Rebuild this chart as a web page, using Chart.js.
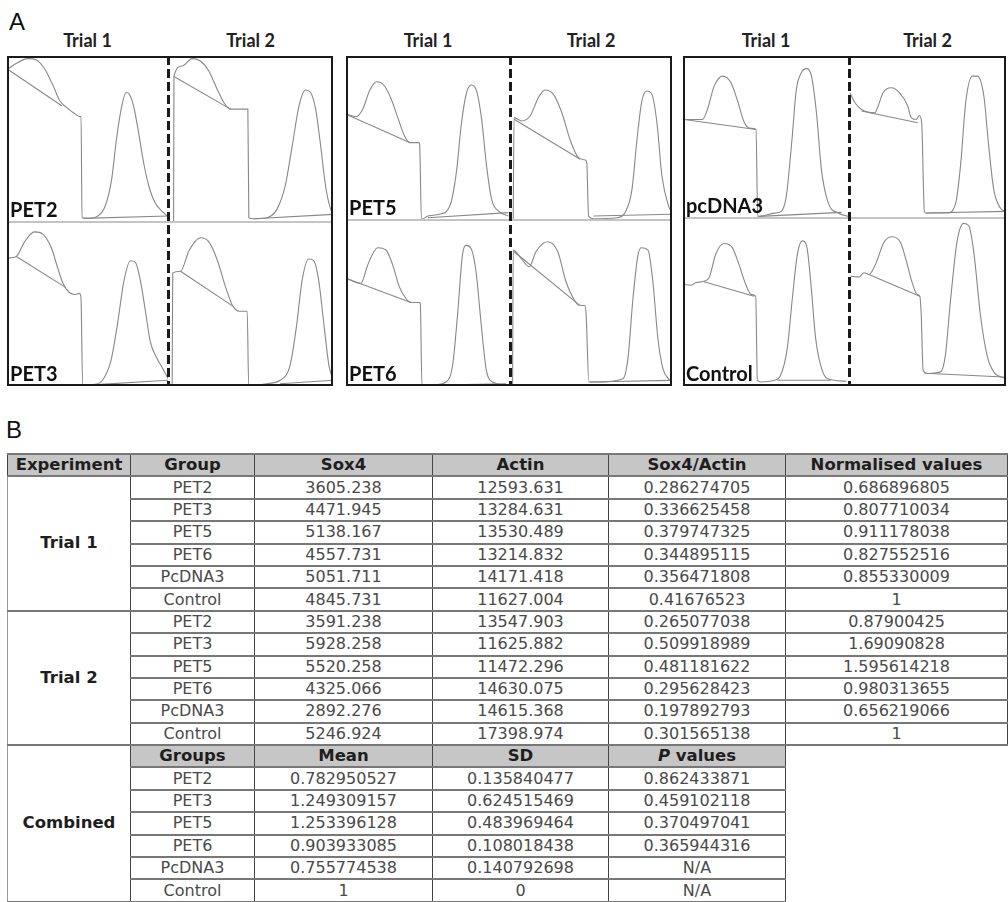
<!DOCTYPE html>
<html>
<head>
<meta charset="utf-8">
<script src="https://cdn.jsdelivr.net/npm/chart.js@4"></script>
<style>
  body { margin: 0; width: 1008px; height: 902px; background: #fff; position: relative; overflow: hidden; font-family: "Liberation Sans", Arial, sans-serif; }
  .panelLetter { position: absolute; font-size: 24px; color: #111; line-height: 1; }
  .box { position: absolute; }
  .box canvas { position: absolute; }
  .frame { position: absolute; left: 0; top: 0; right: 0; bottom: 0; border: 2px solid #1a1a1a; pointer-events: none; }
  .mid { position: absolute; left: 0; right: 0; height: 2px; background: #c4c4c4; }
  .dash { position: absolute; top: 0; bottom: 0; width: 3px;
          background: repeating-linear-gradient(to bottom, #1a1a1a 0 9px, transparent 9px 13px); }
  .title { position: absolute; font-family: Lato, "Open Sans", sans-serif; font-weight: bold; font-size: 18px; color: #222; text-align: center; width: 120px; line-height: 1; }
  .lbl { position: absolute; font-family: Lato, "Open Sans", sans-serif; font-weight: bold; font-size: 20px; color: #111; line-height: 1; }
  table { position: absolute; left: 7px; top: 453px; border-collapse: collapse; table-layout: fixed; font-family: "DejaVu Sans", Verdana, sans-serif; }
  td { height: 20.4px; padding: 0; text-align: center; font-size: 16px; color: #4a4a4a; border-left: 1px solid #444; border-right: 1px solid #444; border-top: 2px solid #777; border-bottom: 2px solid #777; line-height: 1; white-space: nowrap; }
  td.hd { background: #c6c6c6; color: #1e1e1e; font-weight: bold; font-size: 16.5px; }
  td.exp { color: #1e1e1e; font-weight: bold; font-size: 16.5px; border-left: 1px solid #999; }
</style>
</head>
<body>
<div class="panelLetter" style="left:9px;top:10px;">A</div>
<div class="panelLetter" style="left:6px;top:418px;">B</div>
<div id="panelA"></div>
<table id="tbl"></table>

<script>
// ---- panel A: densitometry traces (x: 0-100 across lane, y: 0-100 up the lane) ----
const pet2Trial1 = [[0.4,92],[4.8,95],[13,98.4],[18.3,97.6],[23.5,92],[28.7,82],[32.8,73],[37,69],[41,66],[45.3,63.5],[46,63.5],[46.6,2.6],[49.5,2.2],[55.7,3.2],[61,9.6],[65,25.7],[68,50],[71.3,70],[74,78],[76,77],[78.6,70],[81.7,54],[84.8,36],[88,22],[92,11.6],[97.3,5.6],[100,3.2]];
const pet2Trial1Base = [[0.4,92],[34,70],null,[47.4,2.2],[100,3.6]];
const pet2Trial2 = [[3.4,0],[3.6,87.6],[8.5,94],[14.6,98.4],[19.6,97],[24.7,91],[29.8,80],[33.8,72],[37.9,68],[48,68],[48.4,68],[49,2.6],[52,2],[60,2.6],[66,7.6],[71,21.7],[75.3,46],[79.4,70],[83.4,79.5],[86.4,78],[89.5,68],[92.5,46],[95.5,21.7],[98.6,7.6],[100,5.6]];
const pet2Trial2Base = [[3.6,87.6],[37.9,68],null,[52,2],[100,4.6]];

const pet3Trial1 = [[0.6,78],[5.8,79],[11,88],[17,94],[22.2,92.6],[27.4,84.6],[31.5,72],[34.6,63],[38.7,57],[42,55.8],[44.9,56.5],[45.9,54.8],[47,0.4],[53,0.8],[59.3,3.5],[64.4,14.8],[68.5,37],[72.6,64],[76.7,76.4],[79.8,75.4],[82.9,64],[86,45.6],[89,27],[93.2,16.8],[97.3,9.6],[100,4.5]];
const pet3Trial1Base = [[5.8,79],[36.6,60],null,[47.7,0.4],[100,3.5]];
const pet3Trial2 = [[2.5,0],[2.9,69],[7.6,70],[12.7,82.5],[19.8,90.4],[24.9,87.7],[30,76.4],[35,60],[39.3,48.7],[43.4,45.6],[47.4,45.6],[48,45.6],[48.9,0.4],[59.7,1.4],[67.9,3.5],[74,12.7],[78,37.4],[81.2,64],[85.3,77.4],[88.3,76.4],[91.4,64],[94.5,37.4],[97.5,12.7],[100,3.5]];
const pet3Trial2Base = [[7.6,70],[39.3,48.7],null,[67.9,1.4],[100,3.5]];

const pet5Trial1 = [[0.4,64.4],[6.1,63],[10.2,67.5],[14.3,78.7],[18.8,84.3],[23.5,81.7],[27.6,73.6],[31.6,62.4],[35.7,51.2],[38.8,47.2],[44.5,47.2],[44.9,46],[46,0.4],[50,2.4],[57,3.5],[63.3,8.5],[67.3,29],[70.4,59],[73.5,77.6],[76.5,82.3],[79.6,78.7],[82.7,61.4],[85.7,33],[88.8,12.6],[92.9,5.5],[99,2.4]];
const pet5Trial1Base = [[0.4,64.4],[38.8,47.2],null,[50,1.4],[99,4.5]];
const pet5Trial2 = [[2,0],[2.5,62.4],[7.2,60.4],[12.4,63.4],[17.5,74.6],[21.6,79.3],[26.8,76.6],[32,65.4],[37,49.2],[42.3,38],[46.4,36.6],[47.4,35],[48.5,2.4],[51.5,0.8],[66,1.4],[71,4.5],[75.3,18.7],[78.4,49.2],[81.4,72.6],[84.5,78.7],[87.6,76.6],[90.7,59.3],[93.8,26.8],[97.9,8.5],[100,4.5]];
const pet5Trial2Base = [[2.5,61.4],[43.3,37],null,[51.5,2.4],[100,3.5]];

const pet6Trial1 = [[0.4,64.8],[9.1,61.8],[13.2,72.8],[19.3,83.3],[24.4,81.9],[28.5,72.8],[32.5,59.8],[36.6,52.7],[39.6,50.3],[44.7,50.3],[45.3,49.7],[46.3,0.4],[54.9,0.8],[61,2.4],[65,12.5],[68,42.7],[71,79],[73.2,84.7],[76.2,83],[79.3,68.8],[82.3,38.6],[85.4,10.5],[89.4,2.4],[95.5,0.8],[99.6,0.4]];
const pet6Trial1Base = [[0.4,64.8],[39.6,50.3],null,[46.7,0.4],[97.6,1.4]];
const pet6Trial2 = [[1.6,0],[2,81.9],[6.8,76.9],[11.9,71.8],[16,80.9],[23.3,86.9],[29.5,80.9],[34.6,62.8],[39.8,51.7],[42.9,48.7],[46.4,48.3],[47,42.7],[48.7,2.4],[53.2,2.4],[69.7,4.4],[72.8,16.5],[75.9,52.7],[79,78.9],[81,83.3],[85.2,81.9],[88.2,62.8],[91.3,28.6],[94.4,10.5],[98.6,3.4]];
const pet6Trial2Base = [[2,81.3],[42.9,48.7],null,[49.1,2.4],[98.6,3.4]];

const pcdnaTrial1 = [[0.6,60.8],[11.7,60.8],[14.7,67],[18.8,81.4],[23.8,87.6],[28.9,83.5],[32.9,72.2],[37,58.8],[41,55.3],[44,54.6],[45,1],[55.2,3],[59.2,4.1],[62.2,13.4],[65.3,44.3],[68.3,79.4],[71.3,89.7],[74.3,92.2],[77.4,87.6],[80.4,64.9],[83.4,29.9],[87.5,9.3],[93.5,3.1],[99.6,1]];
const pcdnaTrial1Base = [[0.6,60.8],[44,54.6],null,[46,1],[95.6,3.5]];
const pcdnaTrial2 = [[0.6,77.3],[3.8,71.1],[8,67],[16.4,64.9],[18.5,69],[21.7,77.3],[26.9,80.4],[32.2,77.3],[37.5,69],[39.6,61.9],[42.7,60.8],[44.8,63.3],[46.3,58.8],[48,4.1],[49,3.1],[62.7,3.1],[68,9.3],[71.2,34],[74.3,71.1],[78.5,87.6],[81.7,87.6],[85.9,75.3],[89,44.3],[92.2,17.5],[96.4,6.2],[99.6,4.1]];
const pcdnaTrial2Base = [[8,66],[43.8,58.8],null,[49,3.1],[99.6,4.1]];

const controlTrial1 = [[0.6,60.4],[4.6,60],[7.6,61.4],[12.7,62.4],[15.7,64.4],[19.7,78.4],[24.7,84.8],[29.7,82.4],[33.7,72.4],[37.8,60.4],[41.2,54.4],[43.8,53.4],[44.8,3.4],[46.8,2.4],[54.8,3.4],[58.8,6.4],[62.8,22.4],[65.9,52.4],[68.9,78.4],[71.9,86.4],[74.5,83.4],[76.9,62.4],[79.9,28.4],[82.9,12.4],[86.9,4.4],[98.6,2.8]];
const controlTrial1Base = [[12.7,62],[42.8,53.4],null,[56.8,3.4],[89,3.4]];
const controlTrial2 = [[1,65.4],[6.4,64.9],[9.5,67.4],[12.7,66.4],[16.9,72.4],[22.2,85.4],[27.5,88.8],[32.8,85.4],[37.1,72.4],[40.3,61.4],[43.4,54.4],[45.1,53.4],[46,42.4],[47.2,9.4],[49.8,7.4],[58.3,8.4],[61.4,18.4],[64.6,50.4],[68.9,86.4],[73.1,96.8],[76.3,95.4],[79.4,80.4],[83.7,42.4],[87.9,18.4],[92.2,8.4],[100,4.4]];
const controlTrial2Base = [[12.7,66.4],[45.1,53.4],null,[51.9,7.4],[98.5,5.4]];

const trialTitles = ['Trial 1', 'Trial 2'];

// ---- panel B: table values ----
const groups = ['PET2', 'PET3', 'PET5', 'PET6', 'PcDNA3', 'Control'];
const trial1Sox4 = ['3605.238', '4471.945', '5138.167', '4557.731', '5051.711', '4845.731'];
const trial1Actin = ['12593.631', '13284.631', '13530.489', '13214.832', '14171.418', '11627.004'];
const trial1Ratio = ['0.286274705', '0.336625458', '0.379747325', '0.344895115', '0.356471808', '0.41676523'];
const trial1Norm = ['0.686896805', '0.807710034', '0.911178038', '0.827552516', '0.855330009', '1'];
const trial2Sox4 = ['3591.238', '5928.258', '5520.258', '4325.066', '2892.276', '5246.924'];
const trial2Actin = ['13547.903', '11625.882', '11472.296', '14630.075', '14615.368', '17398.974'];
const trial2Ratio = ['0.265077038', '0.509918989', '0.481181622', '0.295628423', '0.197892793', '0.301565138'];
const trial2Norm = ['0.87900425', '1.69090828', '1.595614218', '0.980313655', '0.656219066', '1'];
const combinedMean = ['0.782950527', '1.249309157', '1.253396128', '0.903933085', '0.755774538', '1'];
const combinedSD = ['0.135840477', '0.624515469', '0.483969464', '0.108018438', '0.140792698', '0'];
const combinedP = ['0.862433871', '0.459102118', '0.370497041', '0.365944316', 'N/A', 'N/A'];

// layout of the three framed boxes
const boxes = [
  { left: 7, top: 56, w: 326, h: 330, split: 161, mid: 166, labels: ['PET2', 'PET3'],
    traces: [[pet2Trial1, pet2Trial1Base], [pet2Trial2, pet2Trial2Base], [pet3Trial1, pet3Trial1Base], [pet3Trial2, pet3Trial2Base]] },
  { left: 346, top: 56, w: 326, h: 330, split: 164, mid: 164, labels: ['PET5', 'PET6'],
    traces: [[pet5Trial1, pet5Trial1Base], [pet5Trial2, pet5Trial2Base], [pet6Trial1, pet6Trial1Base], [pet6Trial2, pet6Trial2Base]] },
  { left: 683, top: 56, w: 323, h: 330, split: 166, mid: 162, labels: ['pcDNA3', 'Control'],
    traces: [[pcdnaTrial1, pcdnaTrial1Base], [pcdnaTrial2, pcdnaTrial2Base], [controlTrial1, controlTrial1Base], [controlTrial2, controlTrial2Base]] }
];

function toPoints(arr) {
  return arr.map(function(p, i) {
    if (p === null) return { x: (arr[i - 1][0] + arr[i + 1][0]) / 2, y: null };
    return { x: p[0], y: p[1] };
  });
}

function drawTrace(canvas, curve, base) {
  new Chart(canvas, {
    type: 'line',
    data: {
      datasets: [{
        data: toPoints(curve),
        borderColor: '#888888',
        borderWidth: 1.1,
        pointRadius: 0,
        cubicInterpolationMode: 'monotone',
        clip: false
      }, {
        data: toPoints(base),
        borderColor: '#888888',
        borderWidth: 1.1,
        pointRadius: 0,
        tension: 0,
        spanGaps: false,
        clip: false
      }]
    },
    options: {
      responsive: false,
      animation: false,
      events: [],
      layout: { padding: 0 },
      plugins: { legend: { display: false }, tooltip: { enabled: false } },
      scales: {
        x: { type: 'linear', min: 0, max: 100, display: false },
        y: { type: 'linear', min: 0, max: 100, display: false }
      }
    }
  });
}

const panelA = document.getElementById('panelA');
boxes.forEach(function(b) {
  // trial titles
  [[0, b.split], [b.split, b.w]].forEach(function(r, i) {
    const t = document.createElement('div');
    t.className = 'title';
    t.textContent = trialTitles[i];
    t.style.left = (b.left + (r[0] + r[1]) / 2 - 60) + 'px';
    t.style.top = '31px';
    panelA.appendChild(t);
  });

  const box = document.createElement('div');
  box.className = 'box';
  box.style.left = b.left + 'px';
  box.style.top = b.top + 'px';
  box.style.width = b.w + 'px';
  box.style.height = b.h + 'px';
  panelA.appendChild(box);

  const cells = [
    [0, 0, b.split, b.mid], [b.split, 0, b.w - b.split, b.mid],
    [0, b.mid, b.split, b.h - b.mid], [b.split, b.mid, b.w - b.split, b.h - b.mid]
  ];
  cells.forEach(function(c, i) {
    const cv = document.createElement('canvas');
    cv.width = c[2];
    cv.height = c[3];
    cv.style.left = c[0] + 'px';
    cv.style.top = c[1] + 'px';
    box.appendChild(cv);
    drawTrace(cv, b.traces[i][0], b.traces[i][1]);
  });

  const mid = document.createElement('div');
  mid.className = 'mid';
  mid.style.top = (b.mid - 1) + 'px';
  box.appendChild(mid);

  const dash = document.createElement('div');
  dash.className = 'dash';
  dash.style.left = (b.split - 1) + 'px';
  box.appendChild(dash);

  const frame = document.createElement('div');
  frame.className = 'frame';
  box.appendChild(frame);

  b.labels.forEach(function(txt, i) {
    const l = document.createElement('div');
    l.className = 'lbl';
    l.textContent = txt;
    l.style.left = '3px';
    l.style.top = (i === 0 ? b.mid - 23 : b.h - 23) + 'px';
    box.appendChild(l);
  });
});

// ---- table ----
const colWidths = [123, 124, 178, 176, 177, 222];
const tbl = document.getElementById('tbl');
const cg = document.createElement('colgroup');
colWidths.forEach(function(w) {
  const c = document.createElement('col');
  c.style.width = w + 'px';
  cg.appendChild(c);
});
tbl.appendChild(cg);
tbl.style.width = colWidths.reduce(function(a, b) { return a + b; }, 0) + 'px';

function addRow(cells) {
  const tr = document.createElement('tr');
  cells.forEach(function(c) {
    const td = document.createElement('td');
    if (c.html) td.innerHTML = c.html; else td.textContent = c.text;
    if (c.cls) td.className = c.cls;
    if (c.rows) td.rowSpan = c.rows;
    tr.appendChild(td);
  });
  tbl.appendChild(tr);
}

addRow(['Experiment', 'Group', 'Sox4', 'Actin', 'Sox4/Actin', 'Normalised values'].map(function(h) {
  return { text: h, cls: 'hd' };
}));

[['Trial 1', trial1Sox4, trial1Actin, trial1Ratio, trial1Norm],
 ['Trial 2', trial2Sox4, trial2Actin, trial2Ratio, trial2Norm]].forEach(function(t) {
  groups.forEach(function(g, i) {
    const row = [];
    if (i === 0) row.push({ text: t[0], cls: 'exp', rows: groups.length });
    row.push({ text: g }, { text: t[1][i] }, { text: t[2][i] }, { text: t[3][i] }, { text: t[4][i] });
    addRow(row);
  });
});

addRow([
  { text: 'Combined', cls: 'exp', rows: groups.length + 1 },
  { text: 'Groups', cls: 'hd' }, { text: 'Mean', cls: 'hd' }, { text: 'SD', cls: 'hd' },
  { html: '<i>P</i> values', cls: 'hd' }
]);
groups.forEach(function(g, i) {
  addRow([{ text: g }, { text: combinedMean[i] }, { text: combinedSD[i] }, { text: combinedP[i] }]);
});
</script>
</body>
</html>
